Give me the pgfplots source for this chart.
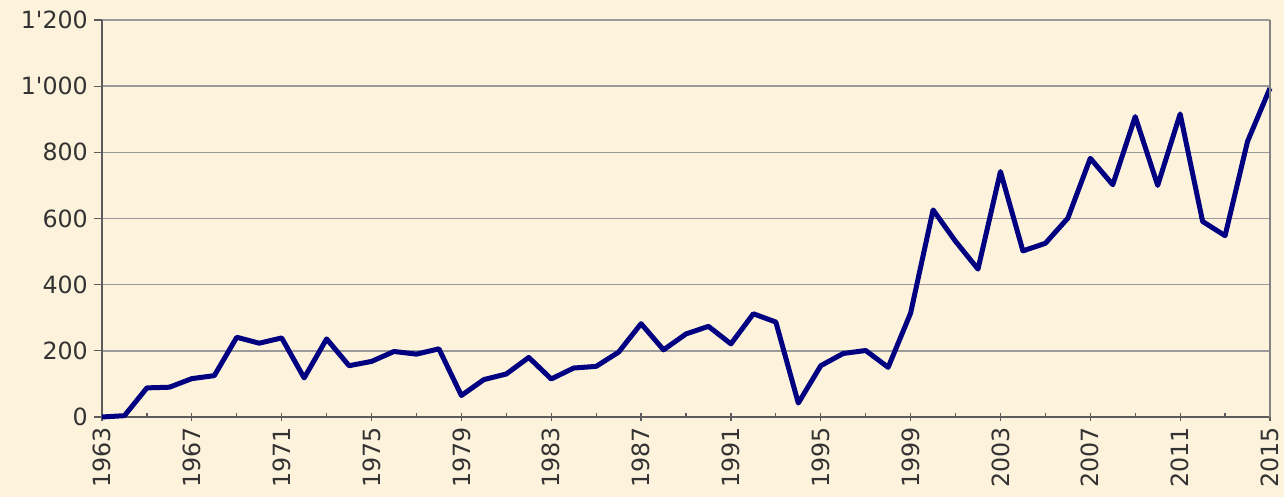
\documentclass[border=0pt]{standalone}
\usepackage{fontspec}
\setmainfont{DejaVu Sans}[Ligatures=TeXOff]
\usepackage{pgfplots}
\pgfplotsset{compat=1.18}
\definecolor{bg}{HTML}{FDF3DC}
\definecolor{navy}{HTML}{000080}
\definecolor{gridgray}{HTML}{9A9A9A}
\definecolor{axgray}{HTML}{5C5C5C}
\definecolor{txt}{HTML}{333333}

\begin{document}
\begin{tikzpicture}
% page = reference size, 1px = 0.2mm
\path[use as bounding box, fill=bg] (-20.4mm,-16mm) rectangle (236.4mm,83.4mm);
\begin{axis}[
    at={(0,0)}, anchor=south west,
    scale only axis,
    width=233.6mm, height=79.4mm,
    xmin=1963, xmax=2015,
    ymin=0, ymax=1200,
    axis x line*=bottom,
    axis y line*=left,
    axis line style={axgray, line width=0.3mm},
    xtick={1963,1967,...,2015},
    xticklabels={1963,1967,1971,1975,1979,1983,1987,1991,1995,1999,2003,2007,2011,2015},
    minor xtick={1965,1969,...,2013},
    ytick={0,200,...,1200},
    yticklabels={0,200,400,600,800,1'000,1'200},
    ymajorgrids,
    major grid style={gridgray, line width=0.3mm},
    tick align=center,
    major tick length=1.6mm,
    minor tick length=0.8mm,
    tick style={axgray, line width=0.25mm},
    every minor tick/.append style={yshift=0.4mm},
    y tick style={xshift=-0.8mm},
    ticklabel style={font=\fontsize{13.5}{16}\selectfont, text=txt},
    yticklabel style={xshift=-0.8mm},
    x tick label style={rotate=90, anchor=east},
    clip=false,
]
\addplot[navy, line width=1mm, line join=round] coordinates {
    (1963,0) (1964,4) (1965,88) (1966,90) (1967,116) (1968,125)
    (1969,241) (1970,223) (1971,239) (1972,118) (1973,236) (1974,155)
    (1975,168) (1976,198) (1977,190) (1978,206) (1979,65) (1980,113)
    (1981,130) (1982,180) (1983,115) (1984,148) (1985,153) (1986,196)
    (1987,282) (1988,203) (1989,251) (1990,274) (1991,221) (1992,312)
    (1993,287) (1994,42) (1995,155) (1996,192) (1997,201) (1998,150)
    (1999,314) (2000,626) (2001,531) (2002,447) (2003,742) (2004,502)
    (2005,525) (2006,601) (2007,782) (2008,702) (2009,908) (2010,700)
    (2011,916) (2012,591) (2013,548) (2014,833) (2015,994)
};
\draw[gridgray!85!black, line width=0.4mm] (rel axis cs:1,0) -- (rel axis cs:1,1);
\end{axis}
\end{tikzpicture}
\end{document}
